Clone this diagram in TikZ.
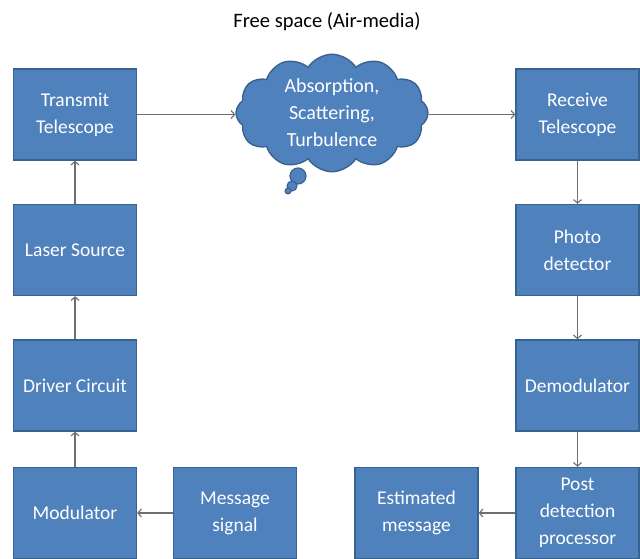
\documentclass[tikz,border=0pt]{standalone}
\usepackage{fontspec}
\setmainfont{Carlito}
\usetikzlibrary{arrows.meta,shapes.symbols}
\definecolor{boxfill}{HTML}{4F81BD}
\definecolor{boxedge}{HTML}{3A6291}
\definecolor{linkgray}{HTML}{6E6E6E}
\tikzset{
  block/.style={draw=boxedge, line width=1.4pt, fill=boxfill, text=white,
    minimum width=123pt, minimum height=91pt, align=center, inner sep=2pt,
    font=\fontsize{19.5}{27}\selectfont},
  link/.style={draw=linkgray, line width=1.1pt,
    -{Straight Barb[length=3.5pt,width=8pt,line width=1.1pt]}},
}
\begin{document}
\begin{tikzpicture}[x=1pt,y=-1pt]
\clip (0,0) rectangle (640,558);
\fill[white] (0,0) rectangle (640,558);

\node[font=\fontsize{20.5}{25}\selectfont] (title) at (327,22) {Free space (Air-media)};

% transmitter chain
\node[block] (tt)  at (75,114.5) {Transmit\\Telescope};
\node[block] (ls)  at (75,250)   {Laser Source};
\node[block] (dc)  at (75,385.5) {Driver Circuit};
\node[block] (mod) at (75,513)   {Modulator};
\node[block] (msg) at (235,513)  {Message\\signal};

% receiver chain
\node[block] (rt)  at (577.5,114.5) {Receive\\Telescope};
\node[block] (pd)  at (577.5,250)   {Photo\\detector};
\node[block] (dem) at (577.5,385.5) {Demodulator};
\node[block] (pdp) at (577.5,513)   {Post\\detection\\processor};
\node[block] (est) at (416.5,513)   {Estimated\\message};

% channel
\node[cloud, cloud puffs=12, cloud puff arc=115, aspect=1.8,
      draw=boxedge, line width=1.4pt, fill=boxfill, text=white,
      minimum width=192pt, minimum height=110pt, inner sep=0pt,
      align=center, font=\fontsize{20}{27}\selectfont]
      (ch) at (332,113) {Absorption,\\Scattering,\\Turbulence};
\filldraw[draw=boxedge, line width=1.2pt, fill=boxfill] (298,176) circle (8);
\filldraw[draw=boxedge, line width=1.1pt, fill=boxfill] (292,186) circle (5);
\filldraw[draw=boxedge, line width=1pt, fill=boxfill] (288,191) circle (3);

% connectors
\draw[link] (mod) -- (dc);
\draw[link] (dc) -- (ls);
\draw[link] (ls) -- (tt);
\draw[link] (msg) -- (mod);
\draw[link] (tt.east) -- (tt.east -| ch.west);
\draw[link] (rt.west -| ch.east) -- (rt.west);
\draw[link] (rt) -- (pd);
\draw[link] (pd) -- (dem);
\draw[link] (dem) -- (pdp);
\draw[link] (pdp) -- (est);
\end{tikzpicture}
\end{document}
